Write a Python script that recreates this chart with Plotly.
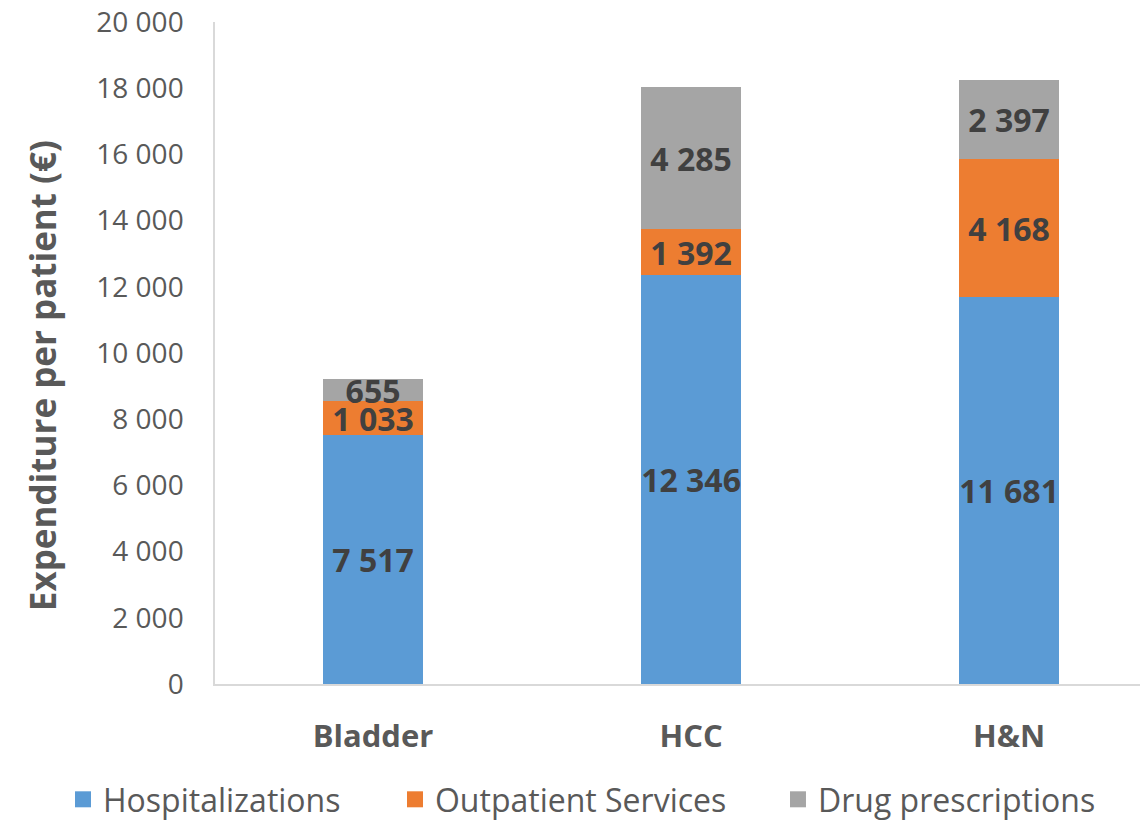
import plotly.graph_objects as go

categories = ["Bladder", "HCC", "H&N"]
hospitalizations = [7517, 12346, 11681]
outpatient = [1033, 1392, 4168]
drugs = [655, 4285, 2397]
series_names = ["Hospitalizations", "Outpatient Services", "Drug prescriptions"]
colors = ["#5B9BD5", "#ED7D31", "#A5A5A5"]
tick_vals = [0, 2000, 4000, 6000, 8000, 10000, 12000, 14000, 16000, 18000, 20000]
y_title = "Expenditure per patient (€)"

FONT = "Open Sans"
fig = go.Figure()
legend_ids = ["legend", "legend2", "legend3"]
for name, vals, col in zip(series_names, [hospitalizations, outpatient, drugs], colors):
    fig.add_trace(go.Bar(
        x=categories, y=vals, name=name,
        marker=dict(color=col, line=dict(width=0)),
        width=0.314,
        texttemplate="%{y:,d}",
        textposition="inside",
        insidetextanchor="middle",
        textangle=0,
        textfont=dict(family=FONT, size=32, color="#404040", weight="bold"),
        showlegend=False,
    ))
# legend entries (larger square symbols), one legend per entry
for name, col, lid in zip(series_names, colors, legend_ids):
    fig.add_trace(go.Scatter(
        x=[None], y=[None], mode="markers", name=name,
        marker=dict(symbol="square", size=22, color=col),
        legend=lid, showlegend=True,
    ))

# plot height 669 px (t=14, b=136 on a 819 px figure)
leg_common = dict(orientation="h", y=-0.175, yanchor="middle", xanchor="left",
                  font=dict(family=FONT, size=32, color="#595959"),
                  bgcolor="rgba(0,0,0,0)", itemsizing="trace")
fig.update_layout(
    barmode="stack",
    width=1140, height=819,
    paper_bgcolor="white", plot_bgcolor="white",
    margin=dict(l=207, r=0, t=14, b=136),
    separators=". ",
    uniformtext=dict(minsize=32, mode="show"),
    font=dict(family=FONT, color="#595959"),
    showlegend=True,
    legend=dict(x=-0.1629, **leg_common),
    legend2=dict(x=0.1929, **leg_common),
    legend3=dict(x=0.6034, **leg_common),
    annotations=[dict(text=y_title, textangle=-90, xref="paper", yref="paper",
                      x=-0.1854, y=0.465, xanchor="center", yanchor="middle",
                      showarrow=False,
                      font=dict(family=FONT, size=35, color="#595959", weight="bold"))],
)
fig.update_xaxes(
    range=[-0.497, 2.437], automargin=False,
    showline=True, linecolor="#D9D9D9", linewidth=1.5,
    showgrid=False, ticks="",
    ticklabelstandoff=24,
    tickfont=dict(family=FONT, size=31, color="#595959", weight="bold"),
)
fig.update_yaxes(
    range=[0, 20000], automargin=False,
    tickvals=tick_vals, tickformat=",d",
    showline=True, linecolor="#D9D9D9", linewidth=1.5,
    showgrid=False, ticks="", zeroline=False,
    ticklabelstandoff=24, ticklabeloverflow="allow",
    tickfont=dict(family=FONT, size=28, color="#595959"),
)

fig.write_html("out.html")
